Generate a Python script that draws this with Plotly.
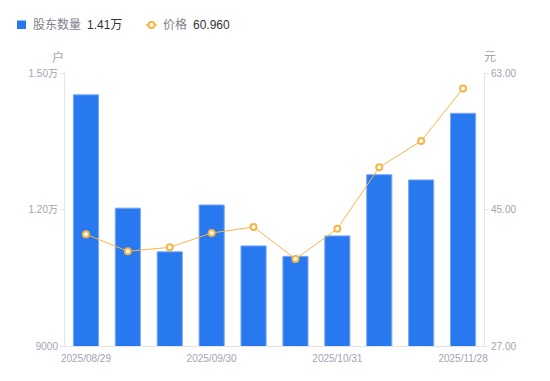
import plotly.graph_objects as go

dates = ["2025/08/29", "2025/09/10", "2025/09/19", "2025/09/30", "2025/10/10",
         "2025/10/20", "2025/10/31", "2025/11/10", "2025/11/20", "2025/11/28"]
holders = [14520, 12030, 11070, 12100, 11200, 10970, 11420, 12765, 12650, 14114]
price = [41.73, 39.49, 40.01, 41.90, 42.69, 38.47, 42.47, 50.56, 54.03, 60.96]

shown_dates = ["2025/08/29", "2025/09/30", "2025/10/31", "2025/11/28"]
left_ticks = [9000, 12000, 15000]
left_labels = ["9000", "1.20万", "1.50万"]
right_ticks = [27, 45, 63]
right_labels = ["27.00", "45.00", "63.00"]

FONT = "Arial, 'Liberation Sans', 'Noto Sans CJK SC', sans-serif"
GRAY = "#a3a3b3"
AXIS = "#e3e3e8"
BLUE = "#2878F0"
ORANGE = "#F7B545"

fig = go.Figure()
fig.add_trace(go.Bar(
    x=dates, y=holders, name="股东数量", width=0.6,
    marker=dict(color=BLUE, line=dict(color="#7aaaf6", width=1)),
    yaxis="y",
))
fig.add_trace(go.Scatter(
    x=dates, y=price, name="价格", mode="lines+markers",
    line=dict(color=ORANGE, width=1),
    marker=dict(symbol="circle", size=6, color="white", line=dict(color=ORANGE, width=2)),
    yaxis="y2",
))

L, R, T, B = 65, 66, 73, 35
W, H = 550, 381
pw, ph = W - L - R, H - T - B

def px(x):
    return (x - L) / pw

def py(y):
    return (H - B - y) / ph

annotations = [
    dict(x=px(31), y=py(25), text="股东数量", font=dict(size=12, color="#7f7f8c")),
    dict(x=px(85), y=py(25), text="1.41万", font=dict(size=12, color="#333333")),
    dict(x=px(161), y=py(25), text="价格", font=dict(size=12, color="#7f7f8c")),
    dict(x=px(191), y=py(25), text="60.960", font=dict(size=12, color="#333333")),
]
for a in annotations:
    a.update(xref="paper", yref="paper", xanchor="left", yanchor="middle", showarrow=False)
annotations += [
    dict(x=px(58), y=py(57), text="户", xref="paper", yref="paper", showarrow=False,
         xanchor="center", yanchor="middle", font=dict(size=12, color=GRAY)),
    dict(x=px(490), y=py(57), text="元", xref="paper", yref="paper", showarrow=False,
         xanchor="center", yanchor="middle", font=dict(size=12, color=GRAY)),
]

shapes = [
    dict(type="rect", xref="paper", yref="paper", x0=px(17), x1=px(26), y0=py(29), y1=py(20.5),
         fillcolor=BLUE, line=dict(width=0)),
    dict(type="line", xref="paper", yref="paper", x0=px(146), x1=px(157), y0=py(25), y1=py(25),
         line=dict(color=ORANGE, width=1.5)),
    dict(type="circle", xref="paper", yref="paper", x0=px(148.5), x1=px(154.5), y0=py(28), y1=py(22),
         fillcolor="white", line=dict(color=ORANGE, width=2)),
]

fig.update_layout(
    width=W, height=H,
    margin=dict(l=L, r=R, t=T, b=B),
    paper_bgcolor="white", plot_bgcolor="white",
    showlegend=False,
    font=dict(family=FONT, size=10, color=GRAY),
    annotations=annotations, shapes=shapes,
    xaxis=dict(type="category", range=[-0.5, 9.5], tickmode="array",
               tickvals=shown_dates, ticktext=shown_dates,
               showline=True, linecolor=AXIS, linewidth=1, ticks="",
               ticklabelstandoff=3,
               showgrid=False, tickfont=dict(size=10, color=GRAY)),
    yaxis=dict(range=[9000, 15000], tickmode="array", tickvals=left_ticks, ticktext=left_labels,
               showline=True, linecolor=AXIS, linewidth=1, ticks="outside", ticklen=4,
               tickcolor=AXIS, showgrid=False, zeroline=False,
               tickfont=dict(size=10, color=GRAY)),
    yaxis2=dict(range=[27, 63], overlaying="y", side="right", tickmode="array",
                tickvals=right_ticks, ticktext=right_labels,
                showline=True, linecolor=AXIS, linewidth=1, ticks="outside", ticklen=4,
                tickcolor=AXIS, showgrid=False, zeroline=False,
                tickfont=dict(size=10, color=GRAY)),
    bargap=0.4,
)

fig.write_html("out.html", config={"displayModeBar": False},
               post_script="document.body.style.margin='0';")
